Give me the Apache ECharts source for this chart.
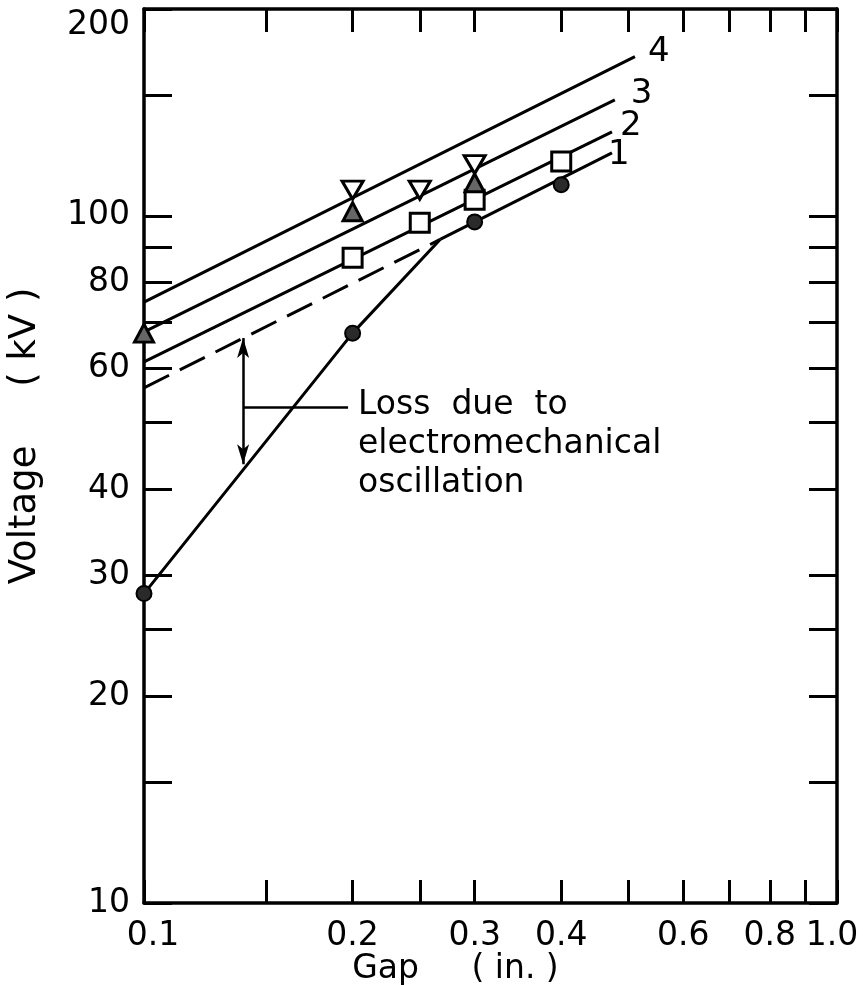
<!DOCTYPE html>
<html>
<head>
<meta charset="utf-8">
<script src="https://cdn.jsdelivr.net/npm/echarts@6/dist/echarts.min.js"></script>
<style>
html,body{margin:0;padding:0;background:#fff;}
#chart{width:863px;height:985px;}
</style>
</head>
<body>
<div id="chart"></div>
<script>
// ---- data (Gap in inches, Voltage in kV) ----
const xTickValues = [0.1, 0.15, 0.2, 0.25, 0.3, 0.4, 0.5, 0.6, 0.7, 0.8, 0.9, 1.0];
const xLabelValues = [0.1, 0.2, 0.3, 0.4, 0.6, 0.8, 1.0];
const yTickValues = [10, 15, 20, 25, 30, 40, 50, 60, 70, 80, 90, 100, 150, 200];
const yLabelValues = [10, 20, 30, 40, 60, 80, 100, 200];

const line4 = [[0.1, 74.9], [0.511, 170.5]];
const line3 = [[0.1, 67.8], [0.478, 147.5]];
const line2 = [[0.1, 61.3], [0.4735, 132.5]];
const line1Dashed = [[0.1, 56.2], [0.2675, 92.4]];
const line1Solid = [[0.2675, 92.4], [0.4735, 123.5]];
const lossCurve = [[0.1, 28.2], [0.2, 67.5], [0.2675, 92.4]];

const circlePts = [[0.1, 28.2], [0.2, 67.5], [0.3, 98.0], [0.4, 111.0]];
const squarePts = [[0.2, 86.9], [0.25, 97.7], [0.3, 105.5], [0.4, 120.0]];
const downTriPts = [[0.2, 109.0], [0.25, 109.0], [0.3, 118.7]];
const upTriPts = [[0.1, 67.5], [0.2, 101.4], [0.3, 111.7]];

const lossArrow = [[0.139, 66.4], [0.139, 43.5]];
const lossLeader = [[0.139, 52.7], [0.197, 52.7]];
const lossText = 'Loss  due  to\nelectromechanical\noscillation';

const FONT = 'DejaVu Sans';
const chart = echarts.init(document.getElementById('chart'), null, {renderer: 'canvas'});

function fmtX(v) {
  if (Math.abs(v - 1) < 1e-9) return '{r|1.0}';
  if (Math.abs(v - 0.1) < 1e-9) return '{l|0.1}';
  return String(Math.round(v * 100) / 100);
}

const axisLine = {show: true, lineStyle: {color: '#000', width: 3.5}};
function xAx(pos, showLabel) {
  return {
    type: 'log', logBase: 10, min: 0.1, max: 1.0, position: pos,
    name: showLabel ? 'Gap     ( in. )' : '',
    nameLocation: 'middle', nameGap: 50, nameMoveOverlap: false,
    nameTextStyle: {fontFamily: FONT, fontSize: 33, color: '#000', padding: [0, 70, 0, 0]},
    axisLine: axisLine,
    axisTick: {show: true, inside: true, length: 23, lineStyle: {color: '#000', width: 3}, customValues: xTickValues},
    axisLabel: {show: showLabel, customValues: xLabelValues, formatter: fmtX, margin: 17,
      fontFamily: FONT, fontSize: 33, color: '#000',
      rich: {
        r: {fontFamily: FONT, fontSize: 33, color: '#000', padding: [0, 10, 0, 0]},
        l: {fontFamily: FONT, fontSize: 33, color: '#000', padding: [0, 0, 0, 18]}
      }},
    splitLine: {show: false}, minorTick: {show: false}
  };
}
function yAx(pos, showLabel) {
  return {
    type: 'log', logBase: 10, min: 10, max: 200, position: pos,
    name: showLabel ? 'Voltage     ( kV )' : '',
    nameLocation: 'middle', nameGap: 100, nameMoveOverlap: false,
    nameTextStyle: {fontFamily: FONT, fontSize: 37, color: '#000', padding: [0, 0, 0, 40]},
    axisLine: axisLine,
    axisTick: {show: true, inside: true, length: 28, lineStyle: {color: '#000', width: 3}, customValues: yTickValues},
    axisLabel: {show: showLabel, customValues: yLabelValues, margin: 14,
      verticalAlignMaxLabel: 'top',
      fontFamily: FONT, fontSize: 33, color: '#000'},
    splitLine: {show: false}, minorTick: {show: false}
  };
}

function lineSeries(name, data, label, offset, dashed) {
  const s = {
    name: name, type: 'line', data: data, symbol: 'none', silent: true,
    lineStyle: {color: '#000', width: 3, type: dashed ? [28, 12] : 'solid'},
    z: 3
  };
  if (label) {
    s.endLabel = {show: true, formatter: label, distance: 0, offset: offset,
      fontFamily: FONT, fontSize: 34, color: '#000'};
  }
  return s;
}

const mk = {opacity: 1};
const option = {
  animation: false,
  backgroundColor: '#fff',
  grid: {left: 144, right: 26, top: 9, bottom: 82, containLabel: false, outerBoundsMode: 'none'},
  xAxis: [xAx('bottom', true), xAx('top', false)],
  yAxis: [yAx('left', true), yAx('right', false)],
  series: [
    lineSeries('4', line4, '4', [13, -4]),
    lineSeries('3', line3, '3', [16, -6]),
    lineSeries('2', line2, '2', [8, -6]),
    lineSeries('1 (expected)', line1Dashed, null, null, true),
    lineSeries('1', line1Solid, '1', [-4, 2]),
    Object.assign(lineSeries('measured', lossCurve, null, null), {
      markLine: {
        silent: true, animation: false,
        label: {show: false},
        lineStyle: {color: '#000', width: 2.5, type: 'solid', opacity: 1},
        data: [
          [{coord: lossArrow[0], symbol: 'arrow', symbolSize: [9, 20]},
           {coord: lossArrow[1], symbol: 'arrow', symbolSize: [9, 20]}],
          [{coord: lossLeader[0], symbol: 'none'},
           {coord: lossLeader[1], symbol: 'none'}]
        ]
      }
    }),
    {name: 'circle', type: 'scatter', data: circlePts, symbol: 'circle', symbolSize: 15, clip: false,
      itemStyle: Object.assign({color: '#2a2a2a', borderColor: '#000', borderWidth: 2}, mk), z: 5},
    {name: 'square', type: 'scatter', data: squarePts, symbol: 'rect', symbolSize: 19, clip: false,
      itemStyle: Object.assign({color: '#fff', borderColor: '#000', borderWidth: 3}, mk), z: 5},
    {name: 'down', type: 'scatter', data: downTriPts, symbol: 'triangle', symbolRotate: 180, symbolSize: [21, 18], clip: false,
      itemStyle: Object.assign({color: '#fff', borderColor: '#000', borderWidth: 3}, mk), z: 6},
    {name: 'up', type: 'scatter', data: upTriPts, symbol: 'triangle', symbolSize: [19, 18], clip: false,
      itemStyle: Object.assign({color: '#666', borderColor: '#000', borderWidth: 3}, mk), z: 6}
  ]
};
chart.setOption(option);

const p = chart.convertToPixel({xAxisIndex: 0, yAxisIndex: 0}, lossLeader[1]);
const LH = 39;
chart.setOption({
  graphic: [{
    type: 'text', left: p[0] + 10, top: p[1] - LH / 2 - 2, silent: true,
    style: {text: lossText, fontFamily: FONT, fontSize: 33, lineHeight: LH, fill: '#000'}
  }]
});
</script>
</body>
</html>
